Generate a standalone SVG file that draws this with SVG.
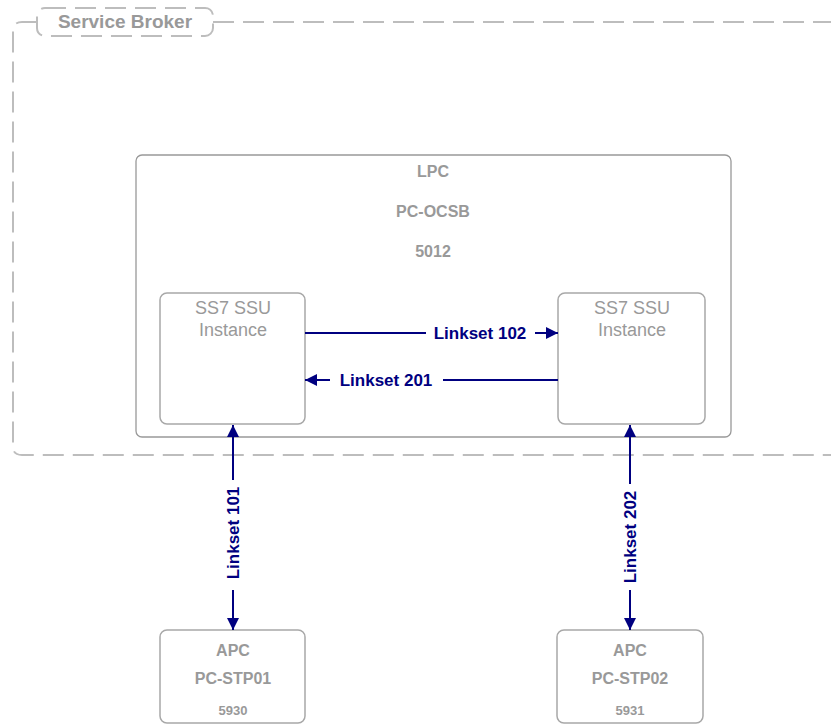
<svg xmlns="http://www.w3.org/2000/svg" width="831" height="725" viewBox="0 0 831 725">
<style>
.dash{fill:none;stroke:#bdbdbd;stroke-width:2;stroke-dasharray:21 9}
.box{fill:#fff;stroke:#a8a8a8;stroke-width:1.5}
.lpc{fill:#fff;stroke:#999;stroke-width:1.3}
.t{font-family:"Liberation Sans",Arial,sans-serif;fill:#999;text-anchor:middle}
.b{font-weight:bold}
.conn{stroke:#000080;stroke-width:2;fill:none}
.lbl{font-family:"Liberation Sans",Arial,sans-serif;font-weight:bold;font-size:17px;fill:#000080;text-anchor:middle}
</style>
<defs>
<marker id="ah" viewBox="0 0 12 12" refX="12" refY="6" markerWidth="12" markerHeight="12" markerUnits="userSpaceOnUse" orient="auto">
<path d="M0,0 L12,6 L0,12 Z" fill="#000080"/>
</marker>
</defs>
<rect width="831" height="725" fill="#fff"/>
<g id="service-broker">
<path class="dash" d="M37,22 H22 Q13,22 13,31 V447 Q13,455 22,455 H840"/>
<path class="dash" d="M213,22 H840"/>
<rect class="dash" x="37" y="8" width="176" height="28" rx="8"/>
<text class="t b" x="125" y="28" font-size="19">Service Broker</text>
</g>
<g id="lpc">
<rect class="lpc" x="136" y="155" width="595" height="282" rx="6"/>
<text class="t b" x="433" y="177" font-size="16">LPC</text>
<text class="t b" x="433" y="217" font-size="16">PC-OCSB</text>
<text class="t b" x="433" y="257" font-size="16">5012</text>
</g>
<g id="ssu-left">
<rect class="box" x="160" y="293" width="145" height="131" rx="7"/>
<text class="t" x="233" y="314" font-size="18">SS7 SSU</text>
<text class="t" x="233" y="336" font-size="18">Instance</text>
</g>
<g id="ssu-right">
<rect class="box" x="558" y="293" width="147" height="131" rx="7"/>
<text class="t" x="632" y="314" font-size="18">SS7 SSU</text>
<text class="t" x="632" y="336" font-size="18">Instance</text>
</g>
<g id="apc-left">
<rect class="box" x="160" y="630" width="145" height="93" rx="7"/>
<text class="t b" x="233" y="656" font-size="16">APC</text>
<text class="t b" x="233" y="684" font-size="16">PC-STP01</text>
<text class="t b" x="233" y="715" font-size="13">5930</text>
</g>
<g id="apc-right">
<rect class="box" x="557" y="630" width="146" height="93" rx="7"/>
<text class="t b" x="630" y="656" font-size="16">APC</text>
<text class="t b" x="630" y="684" font-size="16">PC-STP02</text>
<text class="t b" x="630" y="715" font-size="13">5931</text>
</g>
<g id="connectors">
<path class="conn" d="M305,333 H426"/>
<path class="conn" d="M535,333 H558" marker-end="url(#ah)"/>
<text class="lbl" x="480" y="339">Linkset 102</text>
<path class="conn" d="M330,380 H305" marker-end="url(#ah)"/>
<path class="conn" d="M443,380 H558"/>
<text class="lbl" x="386" y="386">Linkset 201</text>
<path class="conn" d="M233,480 V425" marker-end="url(#ah)"/>
<path class="conn" d="M233,590 V630" marker-end="url(#ah)"/>
<text class="lbl" transform="translate(239,533) rotate(-90)">Linkset 101</text>
<path class="conn" d="M630,484 V425" marker-end="url(#ah)"/>
<path class="conn" d="M630,590 V630" marker-end="url(#ah)"/>
<text class="lbl" transform="translate(636,537) rotate(-90)">Linkset 202</text>
</g>
</svg>
